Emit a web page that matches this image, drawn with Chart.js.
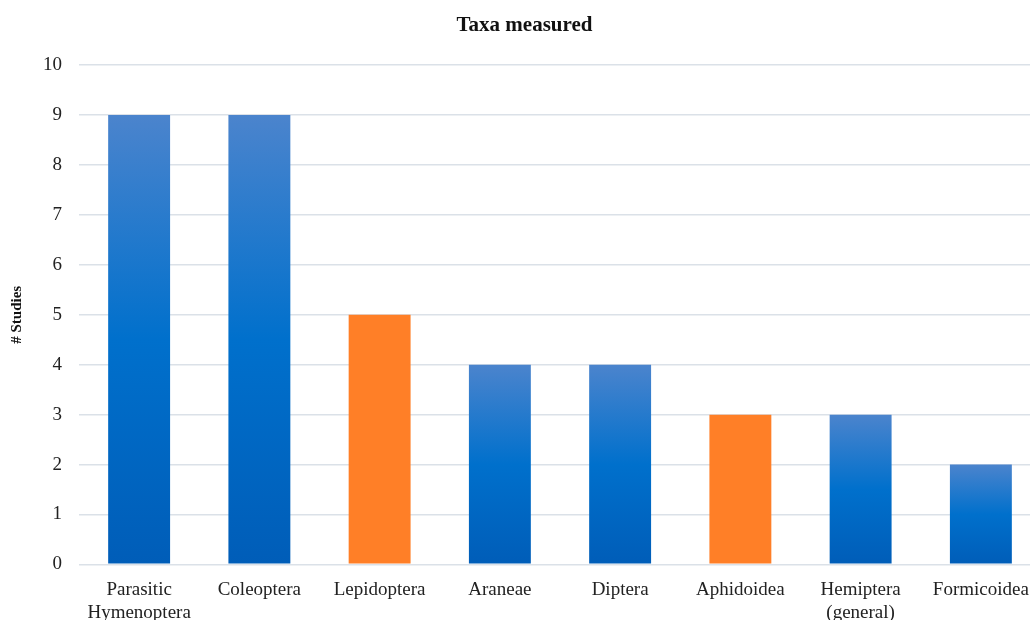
<!DOCTYPE html>
<html>
<head>
<meta charset="utf-8">
<script src="https://cdn.jsdelivr.net/npm/chart.js@4.4.1/dist/chart.umd.min.js"></script>
<style>
    html, body { margin: 0; padding: 0; background: #fff; overflow: hidden; }
    #wrap { position: relative; width: 1042px; height: 630px; }
</style>
</head>
<body>
<div id="wrap"><canvas id="taxaChart"></canvas></div>
<script>
const taxa = [
    ['Parasitic', 'Hymenoptera'],
    'Coleoptera',
    'Lepidoptera',
    'Araneae',
    'Diptera',
    'Aphidoidea',
    ['Hemiptera', '(general)'],
    'Formicoidea'
];
const studies = [9, 9, 5, 4, 4, 3, 3, 2];
// orange marks the highlighted taxa, the rest get the blue gradient
const highlighted = [false, false, true, false, false, true, false, false];

const orange = '#ff7f27';
const serif = "'Liberation Serif', 'DejaVu Serif', serif";

const barFill = (context) => {
    const i = context.dataIndex;
    if (highlighted[i]) return orange;
    const chart = context.chart;
    if (!chart.chartArea) return '#0070cc';
    const y = chart.scales.y;
    const top = y.getPixelForValue(studies[i]);
    const base = y.getPixelForValue(0);
    const grad = chart.ctx.createLinearGradient(0, top, 0, base);
    grad.addColorStop(0, '#4b84cd');
    grad.addColorStop(0.5, '#0070cc');
    grad.addColorStop(1, '#005db8');
    return grad;
};

new Chart(document.getElementById('taxaChart').getContext('2d'), {
    type: 'bar',
    data: {
        labels: taxa,
        datasets: [{
            data: studies,
            backgroundColor: barFill,
            borderWidth: 0,
            categoryPercentage: 1,
            barPercentage: 0.515
        }]
    },
    options: {
        responsive: true,
        maintainAspectRatio: false,
        animation: false,
        layout: { padding: { top: 0, left: 8, right: 1, bottom: 0 } },
        scales: {
            x: {
                grid: { display: false },
                border: { display: false },
                ticks: {
                    color: '#222',
                    font: { family: serif, size: 19 },
                    maxRotation: 0,
                    autoSkip: false,
                    padding: 6
                }
            },
            y: {
                min: 0,
                max: 10,
                border: { display: false },
                grid: { color: '#dbe1e8', lineWidth: 1.6, drawTicks: false },
                ticks: {
                    stepSize: 1,
                    color: '#222',
                    font: { family: serif, size: 19 },
                    padding: 17
                },
                title: {
                    display: true,
                    text: '# Studies',
                    color: '#111',
                    font: { family: serif, size: 15, weight: 'bold' },
                    padding: { top: 0, bottom: 0 }
                }
            }
        },
        plugins: {
            legend: { display: false },
            tooltip: { enabled: false },
            title: {
                display: true,
                text: 'Taxa measured',
                color: '#111',
                font: { family: serif, size: 21, weight: 'bold' },
                padding: { top: 13, bottom: 27 }
            }
        }
    }
});
</script>
</body>
</html>
